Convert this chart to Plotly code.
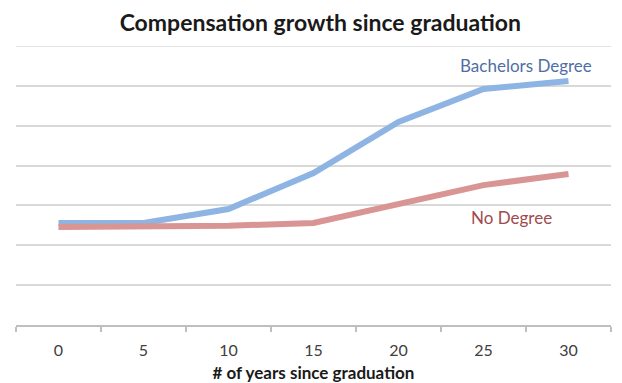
import plotly.graph_objects as go

# Years since graduation and compensation index for each group
years = [0, 5, 10, 15, 20, 25, 30]
bachelors = [51.2, 51.2, 58.2, 76.3, 101.9, 118.4, 122.4]
no_degree = [49.2, 49.2, 49.8, 51.2, 60.7, 70.2, 75.8]
tick_labels = ["0", "5", "10", "15", "20", "25", "30"]
y_max = 140

FONT = "Lato"

fig = go.Figure()
fig.add_trace(go.Scatter(
    x=years, y=bachelors, mode="lines", name="Bachelors Degree",
    line=dict(color="#8DB4E3", width=6), showlegend=False,
))
fig.add_trace(go.Scatter(
    x=years, y=no_degree, mode="lines", name="No Degree",
    line=dict(color="#D99593", width=6), showlegend=False,
))

# Top border gridline (Plotly skips gridlines sitting on the plot edge)
fig.add_shape(type="line", xref="paper", yref="y", x0=0, x1=1, y0=y_max, y1=y_max,
              line=dict(color="#D9D9D9", width=1.5), layer="below")

# Series labels placed beside the line ends
fig.add_annotation(x=27.5, y=130, xref="x", yref="y", text="Bachelors Degree",
                   showarrow=False, font=dict(family=FONT, size=17, color="#4F6EA6"))
fig.add_annotation(x=26.65, y=54.0, xref="x", yref="y", text="No Degree",
                   showarrow=False, font=dict(family=FONT, size=17, color="#A04A4C"))

fig.update_layout(
    width=622, height=383,
    margin=dict(l=16, r=11, t=46, b=58),
    paper_bgcolor="white", plot_bgcolor="white",
    title=dict(text="<b>Compensation growth since graduation</b>", x=0.515, xanchor="center",
               y=1 - 23 / 383, yanchor="middle",
               font=dict(family=FONT, size=23, color="#1a1a1a")),
    font=dict(family=FONT),
)

fig.update_xaxes(
    range=[-2.5, 32.5],
    tickvals=years, ticktext=tick_labels,
    ticks="", showgrid=False, zeroline=False,
    showline=True, linecolor="#BFBFBF", linewidth=1.5,
    tickfont=dict(family=FONT, size=16, color="#404040"),
    ticklabelstandoff=10,
    minor=dict(tick0=-2.5, dtick=5, ticks="outside", ticklen=5,
               tickcolor="#BFBFBF", tickwidth=1.5, showgrid=False),
    title=dict(text="<b># of years since graduation</b>", standoff=12,
               font=dict(family=FONT, size=17, color="#1a1a1a")),
    automargin=False,
)
fig.update_yaxes(
    range=[0, y_max], dtick=20,
    showticklabels=False, ticks="",
    showgrid=True, gridcolor="#D9D9D9", gridwidth=1.5,
    zeroline=False, showline=False,
    automargin=False,
)

fig.write_html("out.html")
